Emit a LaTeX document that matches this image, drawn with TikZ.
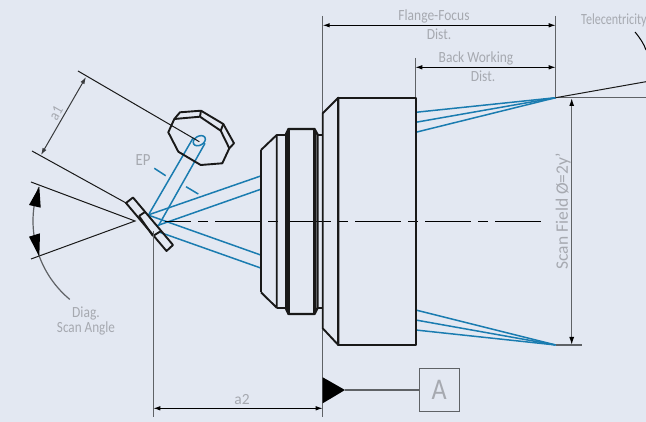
\documentclass[tikz,border=0pt]{standalone}
\usepackage{graphicx}
\usepackage{fontspec}
\setmainfont{Carlito}
\usetikzlibrary{arrows.meta}
\definecolor{bgc}{HTML}{E3E8F2}
\definecolor{beam}{HTML}{1A7CB0}
\definecolor{lbl}{HTML}{A6A9B0}
\definecolor{ext}{HTML}{5F6266}
\newcommand{\cond}[2][0.87]{\scalebox{#1}[1]{#2}}
\tikzset{
 part/.style={line width=1.9pt,black!90,line join=round},
 ray/.style={line width=1.5pt,beam},
 thinline/.style={line width=1pt,black!90},
 extline/.style={line width=1.3pt,ext},
 dim/.style={line width=1pt,black,{Latex[length=7pt,width=4.5pt]}-{Latex[length=7pt,width=4.5pt]}},
 lab/.style={text=lbl,font=\fontsize{15.5}{15.5}\selectfont,inner sep=0pt},
}
\begin{document}
\begin{tikzpicture}[x=1pt,y=-1pt]
\fill[bgc] (0,0) rectangle (646,422);
\useasboundingbox (0,0) rectangle (646,422);
\begin{scope}
\clip (0,0) rectangle (646,422);
% blue rays: lens to mirror to scanner
\draw[ray] (193.3,137.7) -- (149,214);
\draw[ray] (205,143.3) -- (158.3,226);
\draw[ray,rotate around={30:(199.3,140.7)}] (199.3,140.7) ellipse[x radius=6.5,y radius=4.5];
\draw[ray] (148,215) -- (260.7,176);
\draw[ray] (157,225.7) -- (260.7,189.3);
\draw[ray] (148,215) -- (260.7,255);
\draw[ray] (159,232) -- (260.7,268);
% blue rays: focus
\coordinate (ftop) at (555.7,97.7);
\coordinate (fbot) at (555.7,345);
\foreach \y in {112.3,122.3,132.3} \draw[ray] (415.7,\y) -- (ftop);
\foreach \y in {310,320,330} \draw[ray] (415.7,\y) -- (fbot);
% centre line
\draw[line width=1.1pt,black,dash pattern=on 46pt off 7pt on 10pt off 7pt,dash phase=20pt] (165,221.3) -- (543,221.3);
% EP dashes
\draw[ray] (154.3,168.3) -- (165.7,175.7);
\draw[ray] (186,186.7) -- (198.3,194);
% scanner
\draw[part] (168.3,132.3) -- (174.3,119) -- (200,116.7) -- (220.7,130.7) -- (229.3,148.3) -- (222.3,163.3) -- (200.7,165) -- (178.3,151.7) -- cycle;
\draw[part] (174.3,119) -- (180,112.3) -- (201,110.7) -- (223.3,124) -- (234,143.3) -- (229.3,148.3);
\draw[part] (200,116.7) -- (201,110.7);
\draw[part] (220.7,130.7) -- (223.3,124);
% mirror
\draw[part] (126,203) -- (133,197.5) -- (173,245) -- (166.5,251) -- cycle;
\draw[part] (139,216) -- (145,212);
\draw[part] (153,236) -- (161,231);
\draw[part] (139,216) -- (153,236);
% lens
\draw[part] (261,150) -- (261,292.3);
\draw[part] (261,150) -- (276.7,135) -- (276.7,307.7) -- (261,292.3);
\draw[part] (276.7,135) -- (285.7,135) -- (285.7,307.7) -- (276.7,307.7);
\draw[part,line width=2.3pt] (285.7,135) -- (288.5,129) -- (314.5,129) -- (317.5,134.5) -- (317.5,308) -- (314.5,314) -- (288.5,314) -- (285.7,308);
\draw[part,line width=2.3pt] (288.5,129) -- (288.5,314);
\draw[part,line width=2.3pt] (314.5,129) -- (314.5,314);
\draw[part] (317.5,135) -- (322.7,135);
\draw[part] (317.5,307.7) -- (322.7,307.7);
% extension lines
\draw[extline] (322.7,16) -- (322.7,417);
\draw[extline] (153.3,231) -- (153.3,417);
\draw[extline] (555.7,16) -- (ftop);
\draw[extline] (415.3,58) -- (415.3,98);
\draw[extline] (ftop) -- (646,97.7);
\draw[extline] (fbot) -- (581.7,345);
% barrel
\draw[part] (322.7,113.3) -- (338.3,97.7) -- (338.3,345) -- (322.7,328.3) -- cycle;
\draw[part] (338.3,97.7) rectangle (415.7,345);
% telecentricity
\draw[thinline] (ftop) -- (646,81.7);
\draw[line width=1pt,black] (635,32) .. controls (640,38) and (644,44) .. (646,50);
\node[lab,anchor=west] (tele) at (581,20) {\cond[0.78]{Telecentricity}};
% dimensions
\draw[dim] (322.7,25.3) -- (555.7,25.3);
\draw[dim] (415.3,67.3) -- (555.7,67.3);
\draw[dim] (153.3,408.3) -- (322.7,408.3);
\draw[dim,ext!60!black] (86,77) -- (41,155);
\draw[dim,ext,line width=1.3pt,{Latex[length=8pt,width=5pt,black]}-{Latex[length=8pt,width=5pt,black]}] (571.7,98) -- (571.7,345);
\node[lab] (ff) at (434,16) {\cond{Flange-Focus}};
\node[lab] (ffd) at (439,34) {\cond{Dist.}};
\node[lab] (bw) at (476,58) {\cond{Back Working}};
\node[lab] (bwd) at (483,76) {\cond{Dist.}};
\node[lab] (a2) at (242,400) {a2};
\node[lab,rotate=60] (a1) at (56,113) {\cond{a1}};
\node[lab,font=\fontsize{17}{17}\selectfont] (ep) at (143,160) {\cond{EP}};
\node[lab,rotate=90,font=\fontsize{17.5}{17.5}\selectfont] (sf) at (563,211) {Scan Field Ø=2y'};
\node[lab] (d1) at (86,314) {\cond{Diag.}};
\node[lab] (d2) at (86,328) {\cond[0.85]{Scan Angle}};
% a1 extension
\draw[thinline] (78,71) -- (199.3,141.7);
\draw[thinline] (32,151) -- (127,203.5);
% scan angle
\draw[thinline] (31,182) -- (135,221) -- (31,259);
\draw[line width=1.2pt,ext] plot[domain=160.5:230.2,samples=40] ({135+102*cos(\x)},{221-102*sin(\x)});
\fill[black] (39.3,186.7) -- (29,205) -- (40.7,207.7) -- cycle;
\fill[black] (39.3,256.7) -- (29,236.7) -- (40,233.3) -- cycle;
% datum
\node[draw=ext,line width=1.3pt,minimum width=40pt,minimum height=43.5pt,inner sep=0pt,text=lbl,font=\fontsize{30}{30}\selectfont] (A) at (439.2,390) {\cond{A}};
\coordinate (dt) at (345,390);
\fill[black] (322.7,377.3) -- (dt) -- (322.7,403.3) -- cycle;
\draw[line width=1.3pt,ext] (dt) -- (A.west);
\end{scope}
\end{tikzpicture}
\end{document}
